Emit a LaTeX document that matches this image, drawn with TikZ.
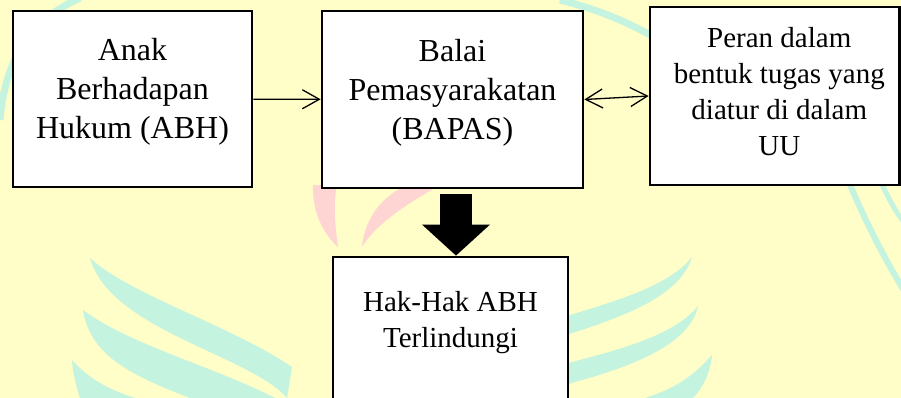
\documentclass[tikz,border=0pt]{standalone}
\usepackage{fontspec}
\setmainfont{Liberation Serif}
\usetikzlibrary{arrows.meta,positioning}
\definecolor{wmyellow}{HTML}{FFFDC8}
\definecolor{wmcyan}{HTML}{C4F3DF}
\definecolor{wmpink}{HTML}{FFD5D3}

\begin{document}
\begin{tikzpicture}[x=1pt, y=-1pt, >={Straight Barb[length=17pt,width=19pt]},
	box/.style={draw, line width=2.7pt, fill=white, inner sep=0pt},
	bigtext/.style={align=center, inner sep=0pt, font=\fontsize{32}{39}\selectfont},
	smalltext/.style={align=center, inner sep=0pt, font=\fontsize{29}{36}\selectfont}]
	\useasboundingbox (0,0) rectangle (901,398);
	\clip (0,0) rectangle (901,398);
	% watermark
	\fill[wmyellow] (0,0) rectangle (901,398);
	\fill[wmcyan] (90,258) .. controls (130,295) and (230,325) .. (292,367) -- (287,398) .. controls (250,355) and (110,330) .. (90,258) -- cycle;
	\fill[wmcyan] (83,310) .. controls (130,345) and (210,365) .. (275,398) -- (190,398) .. controls (130,375) and (90,355) .. (83,310) -- cycle;
	\fill[wmcyan] (72,360) .. controls (90,380) and (110,390) .. (135,398) -- (80,398) .. controls (76,385) and (73,375) .. (72,360) -- cycle;
	\fill[wmcyan] (692,257) .. controls (670,285) and (620,300) .. (560,318) -- (560,337) .. controls (630,315) and (680,295) .. (692,257) -- cycle;
	\fill[wmcyan] (698,306) .. controls (675,335) and (620,350) .. (560,365) -- (560,386) .. controls (630,368) and (690,345) .. (698,306) -- cycle;
	\fill[wmcyan] (712,355) .. controls (690,380) and (670,390) .. (645,398) -- (693,398) .. controls (705,385) and (710,372) .. (712,355) -- cycle;
	\draw[wmcyan, line width=6pt] (850,185) .. controls (865,220) and (885,260) .. (905,292);
	\draw[wmcyan, line width=5pt] (882,185) .. controls (890,200) and (895,212) .. (905,223);
	\draw[wmcyan, line width=7pt] (0,120) .. controls (5,60) and (30,20) .. (80,-2);
	\draw[wmcyan, line width=7pt] (560,0) .. controls (600,10) and (640,25) .. (690,60);
	\fill[wmpink] (313,185) .. controls (312,215) and (325,235) .. (338,247) .. controls (335,225) and (333,205) .. (337,185) -- cycle;
	\fill[wmpink] (362,247) .. controls (365,215) and (385,195) .. (407,185) -- (440,185) .. controls (405,205) and (375,225) .. (362,247) -- cycle;
	% boxes
	\node[box, minimum width=239pt, minimum height=176pt] (abh) at (132.5,99) {};
	\node[box, minimum width=261pt, minimum height=177pt] (bapas) at (452.5,99.5) {};
	\node[box, minimum width=249.5pt, minimum height=178pt] (peran) at (774.75,96) {};
	\node[box, minimum width=235pt, minimum height=173pt] (hak) at (450.5,343.5) {};
	\node[bigtext, below=28.5pt of abh.north] (abhtext) {Anak\\Berhadapan\\Hukum (ABH)};
	\node[bigtext, below=29.5pt of bapas.north] (bapastext) {Balai\\Pemasyarakatan\\(BAPAS)};
	\node[smalltext, below=21.5pt of peran.north, xshift=4.5pt] (perantext) {Peran dalam\\bentuk tugas yang\\diatur di dalam\\UU};
	\node[smalltext, below=35.5pt of hak.north] (haktext) {Hak-Hak ABH\\Terlindungi};
	% connectors
	\draw[->, line width=1.3pt] (abh) -- (bapas);
	\draw[<->, line width=1.3pt] (bapas.east) -- (peran.west);
	\coordinate (shaft) at (456,194);
	\draw[line width=32pt, -{Triangle[length=31pt,width=66pt]}] (shaft) -- (shaft |- hak.north);
\end{tikzpicture}
\end{document}
